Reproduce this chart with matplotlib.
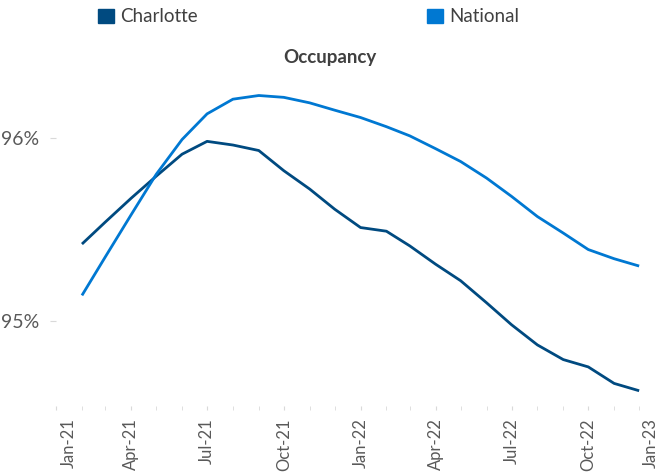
import pandas as pd
import matplotlib
matplotlib.use('Agg')
import matplotlib.pyplot as plt
import matplotlib.dates as mdates
import matplotlib.transforms as mtransforms
from matplotlib.patches import Patch

# Monthly occupancy, Feb-21 through Dec-22
months = pd.date_range(start='2021-02-01', end='2022-12-01', freq='MS')
charlotte = [95.42, 95.54, 95.67, 95.79, 95.91, 95.98, 95.96, 95.93, 95.82, 95.72,
             95.61, 95.51, 95.49, 95.41, 95.31, 95.22, 95.10, 94.98, 94.87, 94.79,
             94.75, 94.66, 94.62]
national = [95.14, 95.35, 95.58, 95.80, 95.99, 96.13, 96.21, 96.23, 96.22, 96.19,
            96.15, 96.11, 96.06, 96.01, 95.94, 95.87, 95.78, 95.68, 95.57, 95.48,
            95.39, 95.34, 95.30]

plt.rcParams['font.family'] = ['Lato', 'DejaVu Sans']

dark = '#004A80'
light = '#0078D2'
grey = '#595959'

fig = plt.figure(figsize=(6.6, 4.73), dpi=100)
ax = fig.add_axes([56.1 / 660, 63 / 473, (665 - 56.1) / 660, (410 - 46) / 473])

ax.plot(months, charlotte, color=dark, linewidth=2, solid_capstyle='butt')
ax.plot(months, national, color=light, linewidth=2, solid_capstyle='butt')

ax.set_xlim(pd.Timestamp('2021-01-01'), pd.Timestamp('2023-01-01'))
ax.set_ylim(94.515, 96.5)

# x axis: label every quarter, small tick every month
ax.xaxis.set_major_locator(mdates.MonthLocator(bymonth=[1, 4, 7, 10]))
ax.xaxis.set_minor_locator(mdates.MonthLocator())
ax.xaxis.set_major_formatter(mdates.DateFormatter('%b-%y'))
ax.tick_params(axis='x', which='both', direction='in', length=3, color='#D9D9D9',
               labelsize=12, labelcolor=grey, pad=6)

ax.set_yticks([95, 96])
ax.yaxis.set_major_formatter(plt.FuncFormatter(lambda v, p: f'{v:.0f}%'))
ax.tick_params(axis='y', direction='out', length=4, color='#D9D9D9',
               labelsize=14, labelcolor=grey, pad=8)

for s in ax.spines.values():
    s.set_visible(False)

fig.canvas.draw()
labels = ax.get_xticklabels()
plt.setp(labels, rotation=90, ha='center', va='top')
# first and last labels are pulled inward, like the original
labels[0].set_transform(labels[0].get_transform() +
                        mtransforms.ScaledTranslation(13 / 100, 0, fig.dpi_scale_trans))
labels[-1].set_transform(labels[-1].get_transform() +
                         mtransforms.ScaledTranslation(-14 / 100, 0, fig.dpi_scale_trans))

fig.text(330 / 660, 1 - 57 / 473, 'Occupancy', ha='center', va='center',
         fontsize=13.5, fontweight='bold', color='#404040')

handles = [Patch(color=dark, label='Charlotte'), Patch(color=light, label='National')]
fig.legend(handles=handles, loc='center left', bbox_to_anchor=(98 / 660, 1 - 17 / 473),
           ncol=2, frameon=False, fontsize=13.5, labelcolor='#404040',
           handlelength=0.85, handleheight=0.85, handletextpad=0.35,
           columnspacing=12.2, borderpad=0, borderaxespad=0)

fig.savefig('out.png', dpi=100)
